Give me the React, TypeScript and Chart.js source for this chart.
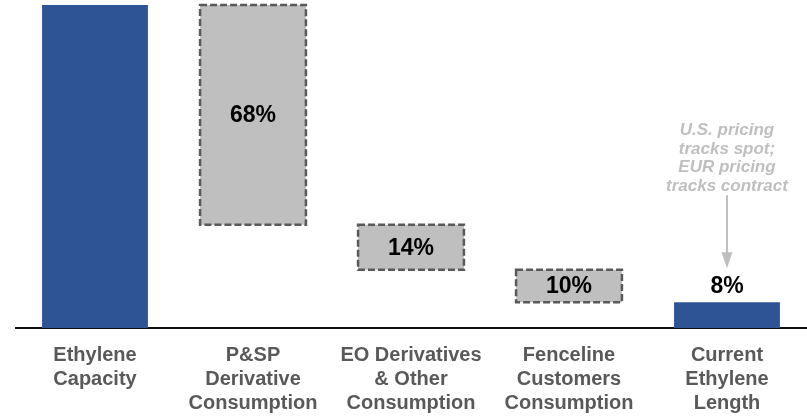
import React, { useEffect, useRef } from "react";
import { Chart, registerables } from "chart.js";

Chart.register(...registerables);

const categories: string[][] = [
  ["Ethylene", "Capacity"],
  ["P&SP", "Derivative", "Consumption"],
  ["EO Derivatives", "& Other", "Consumption"],
  ["Fenceline", "Customers", "Consumption"],
  ["Current", "Ethylene", "Length"],
];
const shares: number[] = [100, 68, 14, 10, 8];
const barKinds: string[] = ["total", "step", "step", "step", "total"];
const valueLabels: string[] = ["", "68%", "14%", "10%", "8%"];
const annotationLines: string[] = ["U.S. pricing", "tracks spot;", "EUR pricing", "tracks contract"];

const BLUE = "#2E5496";
const GREY_FILL = "#BFBFBF";
const DASH = "#595959";
const FONT = "'Liberation Sans', Arial, sans-serif";

function buildRanges(): [number, number][] {
  let level = 0;
  return shares.map((v, i) => {
    if (barKinds[i] === "total") {
      if (i === 0) {
        level = v;
        return [0, v] as [number, number];
      }
      return [0, level] as [number, number];
    }
    const r: [number, number] = [level - v, level];
    level -= v;
    return r;
  });
}

const decorPlugin = {
  id: "waterfallDecor",
  afterDatasetsDraw(chart: any) {
    const ctx = chart.ctx as CanvasRenderingContext2D;
    const meta = chart.getDatasetMeta(0);
    meta.data.forEach((bar: any, i: number) => {
      const { x, y, base, width } = bar.getProps(["x", "y", "base", "width"], true);
      const left = x - width / 2;
      const top = Math.min(y, base);
      const h = Math.abs(base - y);
      if (barKinds[i] === "step") {
        ctx.save();
        ctx.setLineDash([7, 3]);
        ctx.lineWidth = 2.5;
        ctx.strokeStyle = DASH;
        ctx.strokeRect(left, top, width, h);
        ctx.restore();
      }
      if (valueLabels[i]) {
        ctx.save();
        ctx.font = `bold 23px ${FONT}`;
        ctx.fillStyle = "#000000";
        ctx.textAlign = "center";
        if (barKinds[i] === "step") {
          ctx.textBaseline = "middle";
          ctx.fillText(valueLabels[i], x, top + h / 2 + 1);
        } else {
          ctx.textBaseline = "alphabetic";
          ctx.fillText(valueLabels[i], x, top - 9);
        }
        ctx.restore();
      }
    });

    // annotation above the last bar
    const last = meta.data[meta.data.length - 1];
    if (last) {
      const { x, y, base } = last.getProps(["x", "y", "base"], true);
      const top = Math.min(y, base);
      const tipY = top - 34;
      const lineTop = top - 107;
      ctx.save();
      ctx.strokeStyle = GREY_FILL;
      ctx.fillStyle = GREY_FILL;
      ctx.lineWidth = 2;
      ctx.beginPath();
      ctx.moveTo(x, lineTop);
      ctx.lineTo(x, tipY - 14);
      ctx.stroke();
      ctx.beginPath();
      ctx.moveTo(x - 5.5, tipY - 16);
      ctx.lineTo(x + 5.5, tipY - 16);
      ctx.lineTo(x, tipY);
      ctx.closePath();
      ctx.fill();
      ctx.font = `italic bold 17px ${FONT}`;
      ctx.textAlign = "center";
      ctx.textBaseline = "alphabetic";
      const lastBaseline = top - 111;
      const n = annotationLines.length;
      annotationLines.forEach((t, k) => {
        ctx.fillText(t, x, lastBaseline - (n - 1 - k) * 18.7);
      });
      ctx.restore();
    }
  },
};

export default function App() {
  const ref = useRef<HTMLCanvasElement | null>(null);
  useEffect(() => {
    if (!ref.current) return;
    const ranges = buildRanges();
    const chart = new Chart(ref.current, {
      type: "bar",
      data: {
        labels: categories,
        datasets: [
          {
            data: ranges as any,
            backgroundColor: barKinds.map((k) => (k === "total" ? BLUE : GREY_FILL)),
            borderWidth: 0,
            categoryPercentage: 1,
            barPercentage: 0.67,
          },
        ],
      },
      options: {
        responsive: false,
        animation: false,
        maintainAspectRatio: false,
        layout: { padding: { top: 5, left: 16, right: 1, bottom: 0 } },
        plugins: {
          legend: { display: false },
          tooltip: { enabled: false },
          title: { display: false },
        },
        scales: {
          x: {
            grid: { display: false },
            border: { display: true, color: "#111111", width: 2 },
            ticks: {
              color: "#595959",
              font: { family: FONT, size: 20, weight: "bold", lineHeight: 1.2 },
              padding: 7,
              maxRotation: 0,
              autoSkip: false,
            },
            afterFit: (scale: any) => {
              scale.height = 88;
            },
          },
          y: {
            display: false,
            min: 0,
            max: 100,
          },
        },
      },
      plugins: [decorPlugin],
    });
    return () => chart.destroy();
  }, []);
  return (
    <div style={{ position: "absolute", left: 0, top: 0, width: 807, height: 416, background: "#fff" }}>
      <canvas ref={ref} width={807} height={416} style={{ width: 807, height: 416, display: "block" }} />
    </div>
  );
}
